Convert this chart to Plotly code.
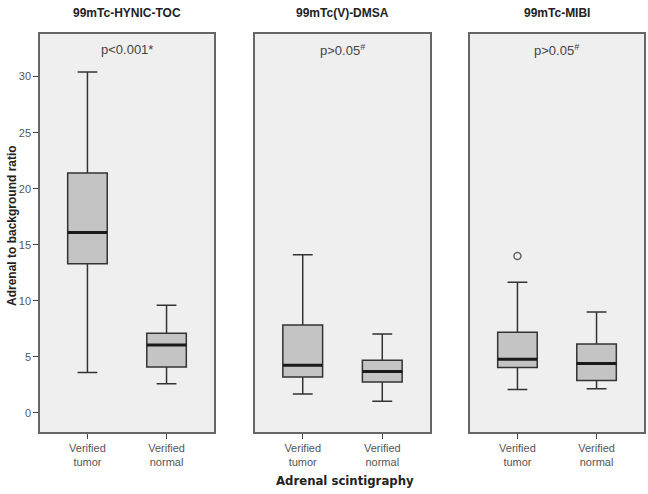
import plotly.graph_objects as go

panels = ["99mTc-HYNIC-TOC", "99mTc(V)-DMSA", "99mTc-MIBI"]
p_labels = ["p<0.001*", "p>0.05<sup>#</sup>", "p>0.05<sup>#</sup>"]
categories = ["Verified<br>tumor", "Verified<br>normal"]

# per panel: [tumor, normal]
lower = [[3.6, 2.6], [1.7, 1.05], [2.1, 2.15]]
q1 = [[13.3, 4.1], [3.2, 2.75], [4.05, 2.9]]
median = [[16.1, 6.05], [4.25, 3.7], [4.8, 4.4]]
q3 = [[21.4, 7.1], [7.85, 4.7], [7.2, 6.15]]
upper = [[30.4, 9.6], [14.1, 7.05], [11.65, 9.0]]
outliers = [[[], []], [[], []], [[14.0], []]]

y_ticks = [0, 5, 10, 15, 20, 25, 30]

W, H = 648, 494
x_domains = [(40 / W, 214 / W), (255 / W, 430 / W), (470 / W, 644 / W)]
y_domain = (1 - 432 / H, 1 - 34 / H)

fig = go.Figure()
layout = dict(
    width=W, height=H, margin=dict(l=0, r=0, t=0, b=0),
    paper_bgcolor="white", plot_bgcolor="#efefef", showlegend=False,
    font=dict(family="Liberation Sans, Arial", size=11, color="#444444"),
)

for i in range(3):
    xa = "x" if i == 0 else f"x{i+1}"
    ya = "y" if i == 0 else f"y{i+1}"
    for j, cat in enumerate(categories):
        fig.add_trace(go.Box(
            x=[cat], q1=[q1[i][j]], median=[median[i][j]], q3=[q3[i][j]],
            lowerfence=[lower[i][j]], upperfence=[upper[i][j]],
            xaxis=xa, yaxis=ya, width=0.5, whiskerwidth=0.5,
            fillcolor="#c4c4c4", line=dict(color="#333333", width=1.5),
            boxpoints=False, hoverinfo="skip",
        ))
        if outliers[i][j]:
            fig.add_trace(go.Scatter(
                x=[cat] * len(outliers[i][j]), y=outliers[i][j], mode="markers",
                xaxis=xa, yaxis=ya,
                marker=dict(symbol="circle-open", size=7, color="#666666",
                            line=dict(width=1.5)),
            ))
        # thick median line
        fig.add_shape(type="line", xref=xa, yref=ya,
                      x0=j - 0.25, x1=j + 0.25, y0=median[i][j], y1=median[i][j],
                      line=dict(color="#1a1a1a", width=3))
    axkey = "xaxis" if i == 0 else f"xaxis{i+1}"
    aykey = "yaxis" if i == 0 else f"yaxis{i+1}"
    layout[axkey] = dict(
        domain=list(x_domains[i]), anchor=ya, type="category",
        categoryorder="array", categoryarray=categories, range=[-0.6, 1.6],
        showline=True, mirror=True, linecolor="#666666", linewidth=1.5,
        ticks="outside", ticklen=5, tickcolor="#444444", showgrid=False,
        tickfont=dict(size=11, color="#555555"), zeroline=False,
    )
    layout[aykey] = dict(
        domain=list(y_domain), anchor=xa, range=[-1.7, 33.8],
        showline=True, mirror=True, linecolor="#666666", linewidth=1.5,
        showgrid=False, zeroline=False,
        tickvals=y_ticks, ticks="outside" if i == 0 else "",
        ticklen=5, tickcolor="#444444", showticklabels=(i == 0),
        tickfont=dict(size=11, color="#555555"),
    )

fig.update_layout(**layout)

annotations = []
for i in range(3):
    cx = (x_domains[i][0] + x_domains[i][1]) / 2
    annotations.append(dict(
        text=f"<b>{panels[i]}</b>", x=cx, y=1 - 13 / H, xref="paper", yref="paper",
        xanchor="center", yanchor="middle",
        showarrow=False, font=dict(size=12, color="#222222"),
    ))
    annotations.append(dict(
        text=p_labels[i], x=cx, y=1 - 50 / H, xref="paper", yref="paper",
        xanchor="center", yanchor="middle",
        showarrow=False, font=dict(size=13, color="#444444"),
    ))
annotations.append(dict(
    text="<b>Adrenal scintigraphy</b>", x=345 / W, y=1 - 480 / H,
    xref="paper", yref="paper", showarrow=False, xanchor="center", yanchor="middle",
    font=dict(size=13, color="#222222", family="DejaVu Sans Condensed, DejaVu Sans"),
))
annotations.append(dict(
    text="<b>Adrenal to background ratio</b>", x=12 / W, y=1 - 226 / H,
    xref="paper", yref="paper", showarrow=False, textangle=-90,
    xanchor="center", yanchor="middle",
    font=dict(size=12, color="#222222"),
))
fig.update_layout(annotations=annotations)

fig.write_html("out.html", config={"displayModeBar": False},
               post_script="document.body.style.margin='0';document.body.style.overflow='hidden';")
